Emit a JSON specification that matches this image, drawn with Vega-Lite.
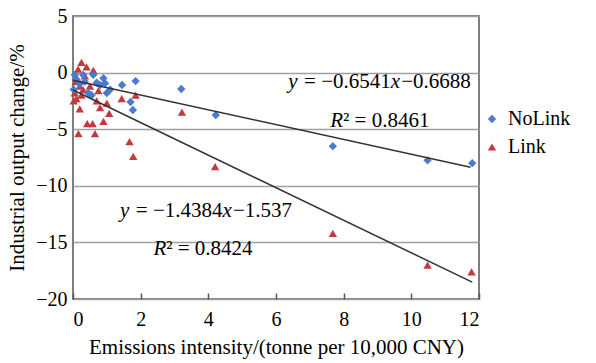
{
  "$schema": "https://vega.github.io/schema/vega-lite/v6.json",
  "width": 406,
  "height": 283,
  "autosize": "none",
  "padding": {"left": 73, "top": 16, "right": 117, "bottom": 64},
  "background": "white",
  "config": {
    "font": "Liberation Serif, Times New Roman, serif",
    "text": {"font": "Liberation Serif, Times New Roman, serif"},
    "axis": {"labelFont": "Liberation Serif, Times New Roman, serif", "titleFont": "Liberation Serif, Times New Roman, serif"},
    "legend": {"labelFont": "Liberation Serif, Times New Roman, serif"},
    "view": {"stroke": "#555555", "strokeWidth": 1.5}
  },
  "encoding": {
    "x": {
      "field": "x", "type": "quantitative",
      "scale": {"domain": [0, 12], "nice": false, "zero": false},
      "axis": {
        "title": "Emissions intensity/(tonne per 10,000 CNY)",
        "values": [0, 2, 4, 6, 8, 10, 12],
        "grid": false, "domain": false,
        "tickSize": -6, "tickColor": "#555555", "tickWidth": 1.5,
        "labelPadding": 16, "labelFontSize": 20, "labelColor": "black",
        "titleFontSize": 21, "titleFontWeight": "normal", "titleColor": "black", "titlePadding": 7
      }
    },
    "y": {
      "field": "y", "type": "quantitative",
      "scale": {"domain": [-20, 5], "nice": false, "zero": false},
      "axis": {
        "title": "Industrial output change/%",
        "values": [-20, -15, -10, -5, 0, 5],
        "grid": true, "gridColor": "#a0a0a0", "gridWidth": 1.5,
        "domain": false, "ticks": false,
        "labelPadding": 6, "labelFontSize": 20, "labelColor": "black",
        "titleFontSize": 21, "titleFontWeight": "normal", "titleColor": "black", "titlePadding": 8
      }
    }
  },
  "layer": [
    {
      "data": {"values": [
        {"series": "Link", "x": 0.05, "y": -1.8},
        {"series": "Link", "x": 0.1, "y": -2.3},
        {"series": "Link", "x": 0.12, "y": -0.5},
        {"series": "Link", "x": 0.15, "y": 0.3},
        {"series": "Link", "x": 0.2, "y": -3.2},
        {"series": "Link", "x": 0.16, "y": -5.4},
        {"series": "Link", "x": 0.25, "y": 0.9},
        {"series": "Link", "x": 0.3, "y": -1.5},
        {"series": "Link", "x": 0.35, "y": -0.3},
        {"series": "Link", "x": 0.4, "y": 0.5},
        {"series": "Link", "x": 0.42, "y": -4.5},
        {"series": "Link", "x": 0.5, "y": -1.2},
        {"series": "Link", "x": 0.58, "y": -4.5},
        {"series": "Link", "x": 0.6, "y": 0.2},
        {"series": "Link", "x": 0.65, "y": -5.4},
        {"series": "Link", "x": 0.7, "y": -2.5},
        {"series": "Link", "x": 0.75, "y": -1.6},
        {"series": "Link", "x": 0.8, "y": -3.1},
        {"series": "Link", "x": 0.9, "y": -4.3},
        {"series": "Link", "x": 1.0, "y": -2.7},
        {"series": "Link", "x": 1.07, "y": -3.6},
        {"series": "Link", "x": 1.44, "y": -2.3},
        {"series": "Link", "x": 1.67, "y": -6.1},
        {"series": "Link", "x": 1.78, "y": -7.4},
        {"series": "Link", "x": 1.85, "y": -2.0},
        {"series": "Link", "x": 3.22, "y": -3.5},
        {"series": "Link", "x": 4.2, "y": -8.3},
        {"series": "Link", "x": 7.68, "y": -14.2},
        {"series": "Link", "x": 10.48, "y": -17.0},
        {"series": "Link", "x": 11.78, "y": -17.6},
        {"series": "Link", "x": 0.08, "y": -0.8},
        {"series": "Link", "x": 0.2, "y": -1.2},
        {"series": "Link", "x": 0.25, "y": -2.0},
        {"series": "Link", "x": 0.02, "y": -2.5},
        {"series": "NoLink", "x": 0.05, "y": -0.2},
        {"series": "NoLink", "x": 0.1, "y": -0.6},
        {"series": "NoLink", "x": 0.02, "y": -1.5},
        {"series": "NoLink", "x": 0.2, "y": -1.0},
        {"series": "NoLink", "x": 0.3, "y": -0.2},
        {"series": "NoLink", "x": 0.35, "y": -0.8},
        {"series": "NoLink", "x": 0.45, "y": -1.8},
        {"series": "NoLink", "x": 0.55, "y": -2.0},
        {"series": "NoLink", "x": 0.6, "y": -0.2},
        {"series": "NoLink", "x": 0.7, "y": -0.9},
        {"series": "NoLink", "x": 0.8, "y": -1.1},
        {"series": "NoLink", "x": 0.9, "y": -0.5},
        {"series": "NoLink", "x": 0.95, "y": -0.95},
        {"series": "NoLink", "x": 1.0, "y": -1.8},
        {"series": "NoLink", "x": 1.1, "y": -1.5},
        {"series": "NoLink", "x": 1.45, "y": -1.1},
        {"series": "NoLink", "x": 1.7, "y": -2.6},
        {"series": "NoLink", "x": 1.77, "y": -3.3},
        {"series": "NoLink", "x": 1.85, "y": -0.75},
        {"series": "NoLink", "x": 3.2, "y": -1.45},
        {"series": "NoLink", "x": 4.22, "y": -3.75},
        {"series": "NoLink", "x": 7.68, "y": -6.5},
        {"series": "NoLink", "x": 10.48, "y": -7.75},
        {"series": "NoLink", "x": 11.8, "y": -8.0}
      ]},
      "mark": {"type": "point", "filled": true, "opacity": 1, "size": 70},
      "encoding": {
        "color": {
          "field": "series", "type": "nominal",
          "scale": {"domain": ["NoLink", "Link"], "range": ["#4a7bd0", "#c43a3c"]},
          "legend": {
            "orient": "none", "legendX": 409, "legendY": 93, "title": null,
            "labelFontSize": 20, "labelColor": "black", "symbolSize": 70,
            "rowPadding": 8, "labelOffset": 6, "padding": 0
          }
        },
        "shape": {
          "field": "series", "type": "nominal",
          "scale": {"domain": ["NoLink", "Link"], "range": ["diamond", "triangle-up"]},
          "legend": {
            "orient": "none", "legendX": 409, "legendY": 93, "title": null,
            "labelFontSize": 20, "labelColor": "black", "symbolSize": 70,
            "rowPadding": 8, "labelOffset": 6, "padding": 0
          }
        }
      }
    },
    {
      "data": {"values": [
        {"series": "NoLink", "x": 0, "y": -0.6688},
        {"series": "NoLink", "x": 11.75, "y": -8.3545},
        {"series": "Link", "x": 0, "y": -1.537},
        {"series": "Link", "x": 11.8, "y": -18.51}
      ]},
      "mark": {"type": "line", "color": "#333333", "strokeWidth": 1.5},
      "encoding": {"detail": {"field": "series", "type": "nominal"}}
    },
    {
      "data": {"values": [
        {"t": "y", "x": 6.36, "y": -1.36},
        {"t": "x", "x": 9.39, "y": -1.36},
        {"t": "R", "x": 7.6, "y": -4.78},
        {"t": "y", "x": 1.39, "y": -12.73},
        {"t": "x", "x": 4.42, "y": -12.73},
        {"t": "R", "x": 2.376, "y": -16.11}
      ]},
      "mark": {"type": "text", "align": "left", "baseline": "alphabetic", "fontSize": 21, "fontStyle": "italic", "color": "black", "font": "Liberation Serif, Times New Roman, serif"},
      "encoding": {"text": {"field": "t"}}
    },
    {
      "data": {"values": [
        {"t": "= −0.6541", "x": 6.83, "y": -1.36},
        {"t": "−0.6688", "x": 9.7, "y": -1.36},
        {"t": "² = 0.8461", "x": 7.98, "y": -4.78},
        {"t": "= −1.4384", "x": 1.857, "y": -12.73},
        {"t": "−1.537", "x": 4.73, "y": -12.73},
        {"t": "² = 0.8424", "x": 2.755, "y": -16.11}
      ]},
      "mark": {"type": "text", "align": "left", "baseline": "alphabetic", "fontSize": 21, "color": "black", "font": "Liberation Serif, Times New Roman, serif"},
      "encoding": {"text": {"field": "t"}}
    }
  ]
}
